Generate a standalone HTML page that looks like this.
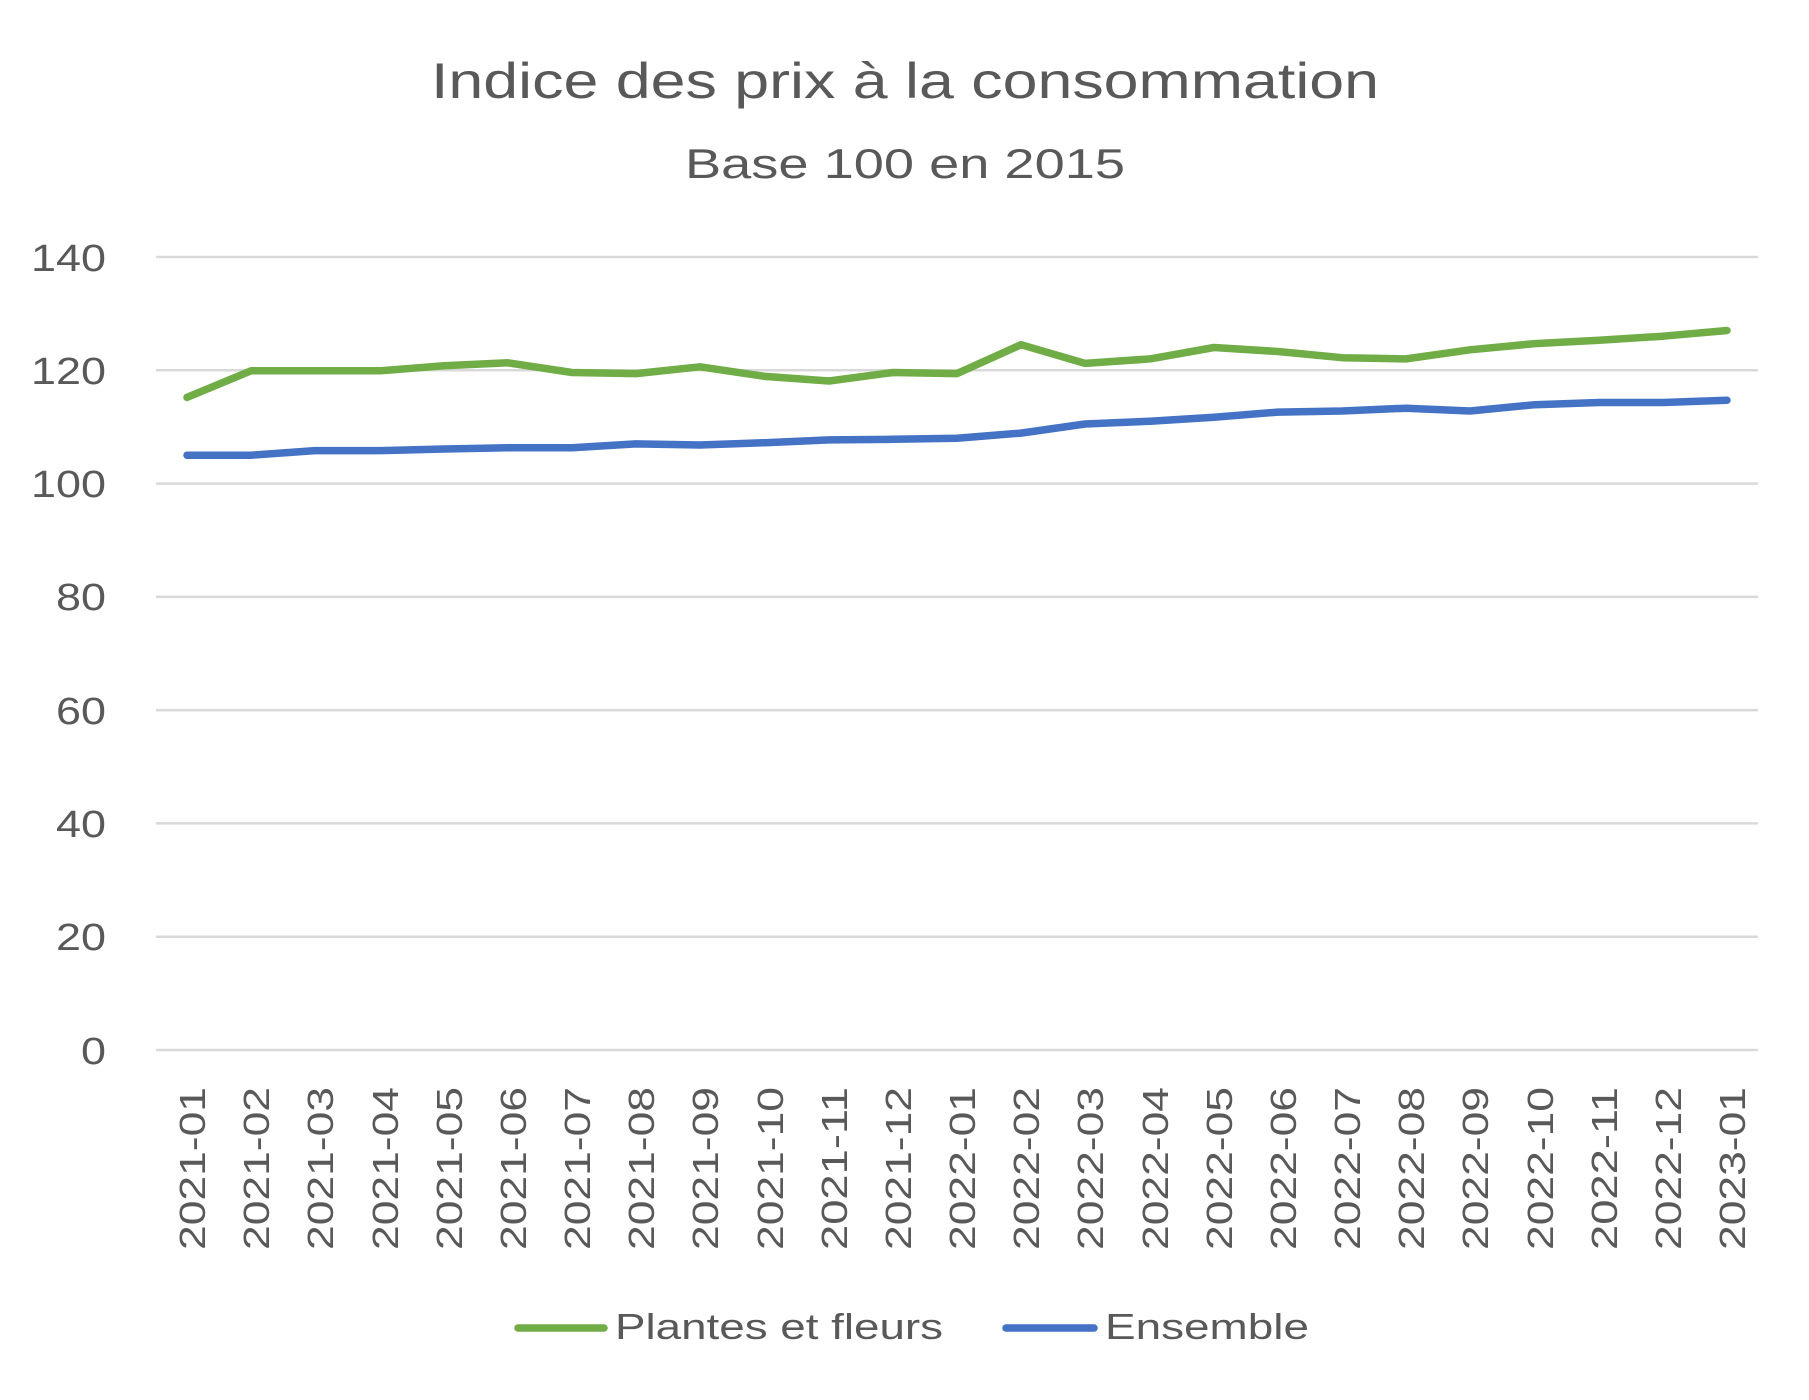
<!DOCTYPE html>
<html><head><meta charset="utf-8"><style>html,body{margin:0;padding:0;background:#fff}svg{display:block}</style></head>
<body>
<svg width="1809" height="1400" viewBox="0 0 1809 1400" xmlns="http://www.w3.org/2000/svg" font-family="Liberation Sans, sans-serif" fill="#595959">
<text x="905" y="98" font-size="50" text-anchor="middle" textLength="948" lengthAdjust="spacingAndGlyphs">Indice des prix à la consommation</text>
<text x="905" y="178" font-size="42" text-anchor="middle" textLength="440" lengthAdjust="spacingAndGlyphs">Base 100 en 2015</text>
<g stroke="#d9d9d9" stroke-width="2.5">
<line x1="156" x2="1758" y1="257" y2="257"/><line x1="156" x2="1758" y1="370.3" y2="370.3"/>
<line x1="156" x2="1758" y1="483.6" y2="483.6"/><line x1="156" x2="1758" y1="596.9" y2="596.9"/>
<line x1="156" x2="1758" y1="710.1" y2="710.1"/><line x1="156" x2="1758" y1="823.4" y2="823.4"/>
<line x1="156" x2="1758" y1="936.7" y2="936.7"/><line x1="156" x2="1758" y1="1050" y2="1050"/>
</g>
<g font-size="38" text-anchor="end">
<text x="106" y="271" textLength="75" lengthAdjust="spacingAndGlyphs">140</text>
<text x="106" y="384" textLength="75" lengthAdjust="spacingAndGlyphs">120</text>
<text x="106" y="497" textLength="75" lengthAdjust="spacingAndGlyphs">100</text>
<text x="106" y="610" textLength="50" lengthAdjust="spacingAndGlyphs">80</text>
<text x="106" y="724" textLength="50" lengthAdjust="spacingAndGlyphs">60</text>
<text x="106" y="837" textLength="50" lengthAdjust="spacingAndGlyphs">40</text>
<text x="106" y="950" textLength="50" lengthAdjust="spacingAndGlyphs">20</text>
<text x="106" y="1064" textLength="25" lengthAdjust="spacingAndGlyphs">0</text>
</g>
<polyline fill="none" stroke="#70AD47" stroke-width="7.5" stroke-linecap="round" stroke-linejoin="round" points="187,397.4 251,370.8 315,370.8 380,370.8 444,365.7 508,362.8 572,372.5 636,373.6 700,366.8 765,376.4 829,381 893,372.5 957,373.6 1021,344.7 1085,363.4 1150,358.9 1214,347.5 1278,351.5 1342,357.7 1406,358.9 1470,349.8 1535,343.6 1599,340.2 1663,336.2 1727,330.5"/>
<polyline fill="none" stroke="#4472C4" stroke-width="7.5" stroke-linecap="round" stroke-linejoin="round" points="187,455.2 251,455.2 315,450.6 380,450.6 444,449 508,447.8 572,447.8 636,443.9 700,445 765,442.7 829,439.9 893,439.3 957,438.2 1021,433.1 1085,424 1150,421.2 1214,417.2 1278,412.1 1342,411 1406,408.2 1470,411 1535,404.7 1599,402.5 1663,402.5 1727,400.2"/>
<g font-size="36">
<text transform="translate(205,1250) rotate(-90)" textLength="163" lengthAdjust="spacingAndGlyphs">2021-01</text>
<text transform="translate(269,1250) rotate(-90)" textLength="163" lengthAdjust="spacingAndGlyphs">2021-02</text>
<text transform="translate(333,1250) rotate(-90)" textLength="163" lengthAdjust="spacingAndGlyphs">2021-03</text>
<text transform="translate(398,1250) rotate(-90)" textLength="163" lengthAdjust="spacingAndGlyphs">2021-04</text>
<text transform="translate(462,1250) rotate(-90)" textLength="163" lengthAdjust="spacingAndGlyphs">2021-05</text>
<text transform="translate(526,1250) rotate(-90)" textLength="163" lengthAdjust="spacingAndGlyphs">2021-06</text>
<text transform="translate(590,1250) rotate(-90)" textLength="163" lengthAdjust="spacingAndGlyphs">2021-07</text>
<text transform="translate(654,1250) rotate(-90)" textLength="163" lengthAdjust="spacingAndGlyphs">2021-08</text>
<text transform="translate(718,1250) rotate(-90)" textLength="163" lengthAdjust="spacingAndGlyphs">2021-09</text>
<text transform="translate(783,1250) rotate(-90)" textLength="163" lengthAdjust="spacingAndGlyphs">2021-10</text>
<text transform="translate(847,1250) rotate(-90)" textLength="163" lengthAdjust="spacingAndGlyphs">2021-11</text>
<text transform="translate(911,1250) rotate(-90)" textLength="163" lengthAdjust="spacingAndGlyphs">2021-12</text>
<text transform="translate(975,1250) rotate(-90)" textLength="163" lengthAdjust="spacingAndGlyphs">2022-01</text>
<text transform="translate(1039,1250) rotate(-90)" textLength="163" lengthAdjust="spacingAndGlyphs">2022-02</text>
<text transform="translate(1103,1250) rotate(-90)" textLength="163" lengthAdjust="spacingAndGlyphs">2022-03</text>
<text transform="translate(1168,1250) rotate(-90)" textLength="163" lengthAdjust="spacingAndGlyphs">2022-04</text>
<text transform="translate(1232,1250) rotate(-90)" textLength="163" lengthAdjust="spacingAndGlyphs">2022-05</text>
<text transform="translate(1296,1250) rotate(-90)" textLength="163" lengthAdjust="spacingAndGlyphs">2022-06</text>
<text transform="translate(1360,1250) rotate(-90)" textLength="163" lengthAdjust="spacingAndGlyphs">2022-07</text>
<text transform="translate(1424,1250) rotate(-90)" textLength="163" lengthAdjust="spacingAndGlyphs">2022-08</text>
<text transform="translate(1488,1250) rotate(-90)" textLength="163" lengthAdjust="spacingAndGlyphs">2022-09</text>
<text transform="translate(1553,1250) rotate(-90)" textLength="163" lengthAdjust="spacingAndGlyphs">2022-10</text>
<text transform="translate(1617,1250) rotate(-90)" textLength="163" lengthAdjust="spacingAndGlyphs">2022-11</text>
<text transform="translate(1681,1250) rotate(-90)" textLength="163" lengthAdjust="spacingAndGlyphs">2022-12</text>
<text transform="translate(1745,1250) rotate(-90)" textLength="163" lengthAdjust="spacingAndGlyphs">2023-01</text>
</g>
<line x1="518" x2="604" y1="1328" y2="1328" stroke="#70AD47" stroke-width="7.5" stroke-linecap="round"/>
<text x="615" y="1339" font-size="36" textLength="328" lengthAdjust="spacingAndGlyphs">Plantes et fleurs</text>
<line x1="1006" x2="1094" y1="1328" y2="1328" stroke="#4472C4" stroke-width="7.5" stroke-linecap="round"/>
<text x="1105" y="1339" font-size="36" textLength="204" lengthAdjust="spacingAndGlyphs">Ensemble</text>
</svg>
</body></html>
